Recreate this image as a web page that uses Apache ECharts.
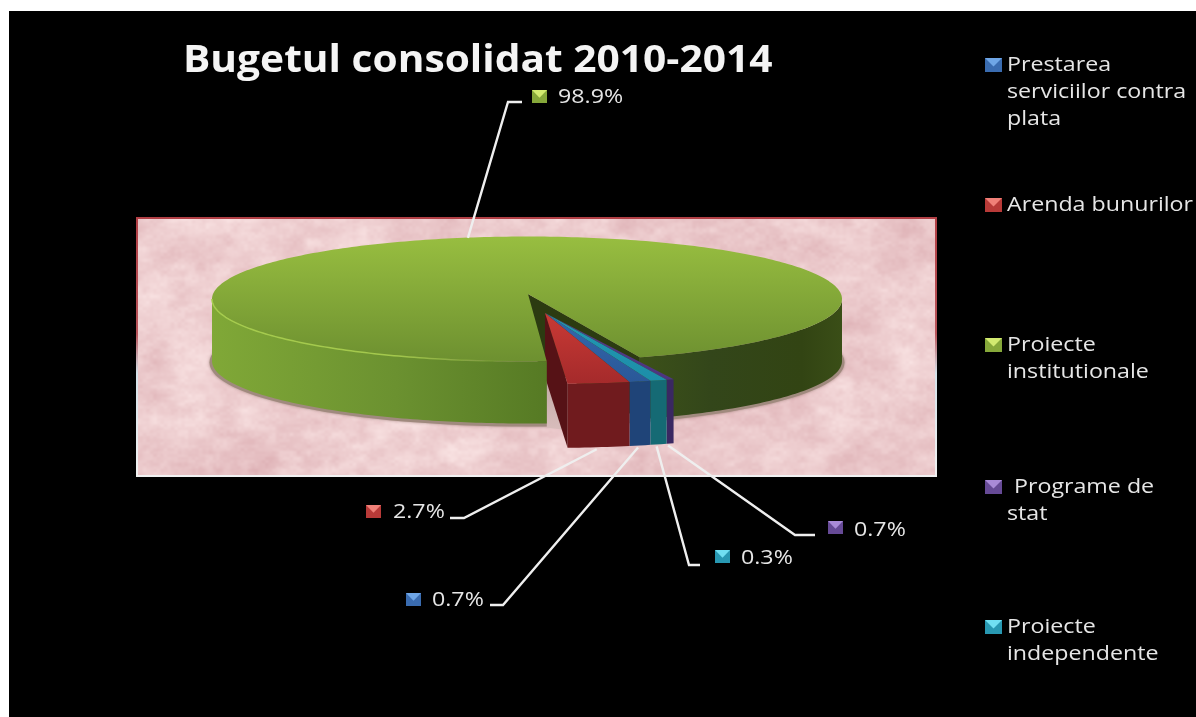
<!DOCTYPE html>
<html>
<head>
<meta charset="utf-8">
<style>html,body{margin:0;padding:0;background:#fff}#c{width:1196px;height:717px}</style>
<script src="https://cdn.jsdelivr.net/npm/echarts@6/dist/echarts.min.js"></script>
</head>
<body>
<div id="c"></div>
<script>
// ---- data ----
const categories = ['Prestarea serviciilor contra plata','Arenda bunurilor','Proiecte institutionale','Programe de stat','Proiecte independente'];
// slice shares as they are drawn in the picture (% of the circle)
const drawnShares = [0.97, 2.78, 95.2, 0.33, 0.75];
// percentages printed on the data labels
const percentLabels = ['0.7%','2.7%','98.9%','0.7%','0.3%'];
const legendLines = [['Prestarea','serviciilor contra','plata'],['Arenda bunurilor'],['Proiecte','institutionale'],[' Programe de','stat'],['Proiecte','independente']];
const chartTitle = 'Bugetul consolidat 2010-2014';

// ---- layout and styles ----
const startParam = 72.9;           // ellipse parameter where the first slice starts
const mainIndex = 2;
const pie = {cx:527, cy:299, rx:315, ry:62.5, depth:62, tipX:528, tipY:294};
const exploded = {cx:545, cy:313, rx:359, ry:71, depth:64};
const plot = {x:137, y:218, w:799, h:258};
const looks = [
  {top:['#3468ad','#2a5898'], side:'#1f4478', mark:['#6fa6e6','#3a6cb0']},
  {top:['#c93a35','#a52a2b'], side:'#701b1e', wall:'#561216', mark:['#f08078','#b83a38']},
  {top:['#98be40','#6d9030'], mark:['#d2ea70','#86a83a']},
  {top:['#553c8a','#4c3580'], side:'#3a2862', mark:['#a98ad8','#664a96']},
  {top:['#2398b4','#1c8ea8'], side:'#156a74', mark:['#70dff2','#2898b2']}
];
const labelLayout = [
  {elbow:[503,605], end:[490,605], mx:406, my:593, tx:432, ty:600, dx:-2},
  {elbow:[464,518], end:[450,518], mx:366, my:505, tx:393, ty:512, dx:-2},
  {elbow:[508,102], end:[522,102], mx:532, my:90,  tx:558, ty:97, dx:8},
  {elbow:[795,535], end:[815,535], mx:828, my:521, tx:854, ty:530, dx:-2},
  {elbow:[689,565], end:[700,565], mx:715, my:550, tx:741, ty:558, dx:-2}
];
const legendLayout = [{y:65},{y:205},{y:345},{y:487},{y:627}];
const legendLineGap = 27;
const textScale = 1.16;

const total = drawnShares.reduce((a,b)=>a+b,0);
const starts = [];
(function(){ let t = startParam; drawnShares.forEach(v=>{ starts.push(t); t += v/total*360; }); })();

const rad = d => d*Math.PI/180;
const onRim = (g,t) => [g.cx + g.rx*Math.cos(rad(t)), g.cy + g.ry*Math.sin(rad(t))];
function rimPts(g,a,b,dy){
  const pts=[]; const n=Math.max(2,Math.ceil(b-a));
  for(let i=0;i<=n;i++){ const p=onRim(g,a+(b-a)*i/n); pts.push([p[0],p[1]+(dy||0)]); }
  return pts;
}
function frontRanges(a,b){
  const out=[];
  for(let k=0;k<2;k++){ const lo=Math.max(a,360*k), hi=Math.min(b,180+360*k); if(lo<hi) out.push([lo,hi]); }
  return out;
}
const V = (c0,c1)=>({type:'linear',x:0,y:0,x2:0,y2:1,colorStops:[{offset:0,color:c0},{offset:1,color:c1}]});
const H = (stops)=>({type:'linear',x:0,y:0,x2:1,y2:0,colorStops:stops.map(s=>({offset:s[0],color:s[1]}))});

// fixed mottled paper texture for the plot area (decoration only, no data)
function hash(x,y,s){ let h=(x*374761393+y*668265263+s*1274126177)|0; h=Math.imul(h^(h>>>13),1274126177); return ((h^(h>>>16))>>>0)/4294967295; }
function vnoise(x,y,s){
  const xi=Math.floor(x), yi=Math.floor(y); let fx=x-xi, fy=y-yi;
  fx=fx*fx*(3-2*fx); fy=fy*fy*(3-2*fy);
  const a=hash(xi,yi,s), b=hash(xi+1,yi,s), c=hash(xi,yi+1,s), d=hash(xi+1,yi+1,s);
  return (a*(1-fx)+b*fx)*(1-fy)+(c*(1-fx)+d*fx)*fy;
}
function makeTexture(){
  const cv=document.createElement('canvas'); cv.width=plot.w; cv.height=plot.h;
  const ctx=cv.getContext('2d'); const im=ctx.createImageData(plot.w,plot.h);
  for(let y=0;y<plot.h;y++)for(let x=0;x<plot.w;x++){
    const n = 1.0*(vnoise(x/55,y/34,1)-.5) + 0.8*(vnoise(x/22,y/12,2)-.5) + 0.6*(vnoise(x/9,y/6,3)-.5) + 0.35*(vnoise(x/3.5,y/3,4)-.5);
    const i=(y*plot.w+x)*4;
    im.data[i]=236+n*12; im.data[i+1]=203+n*22; im.data[i+2]=205+n*20; im.data[i+3]=255;
  }
  ctx.putImageData(im,0,0); return cv;
}

function marker(x,y,w,h,c,z){
  return [
    {type:'rect',z2:z,shape:{x:x,y:y,width:w,height:h},style:{fill:c[1]}},
    {type:'polygon',z2:z+1,shape:{points:[[x,y],[x+w,y],[x+w/2,y+h*0.6]]},style:{fill:c[0]}}
  ];
}

function renderItem(params, api){
  const i=params.dataIndex, sweep=api.value(0)/total*360, a=starts[i], b=a+sweep, look=looks[i];
  const kids=[];
  if(i===mainIndex){
    const fr=frontRanges(a,b);
    const rightPt=onRim(pie,b);
    // cut wall facing the viewer
    kids.push({type:'polygon',z2:2,shape:{points:[[pie.tipX,pie.tipY],rightPt,[rightPt[0],rightPt[1]+pie.depth],[pie.tipX,pie.tipY+pie.depth]]},style:{fill:'#2c3b11'}});
    // soft ground shadow, paler where it shows inside the gap
    kids.push({type:'ellipse',z2:1,shape:{cx:pie.cx,cy:pie.cy+pie.depth+1.5,rx:pie.rx+2.5,ry:pie.ry+1.5},style:{fill:'#a08a7e',shadowBlur:3,shadowColor:'rgba(120,90,80,.6)'}});
    const g0=onRim(pie,a);
    kids.push({type:'polygon',z2:1.5,shape:{points:[[g0[0],g0[1]+10],[g0[0]+30,g0[1]+10],[g0[0]+30,g0[1]+pie.depth+8],[g0[0],g0[1]+pie.depth+4]]},style:{fill:V('#bfa9a4','#d9bdbc')}});
    fr.forEach((r,k)=>{
      const top=rimPts(pie,r[0],r[1],0), bot=rimPts(pie,r[0],r[1],pie.depth).reverse();
      const isLeft=k===0;
      kids.push({type:'polygon',z2:isLeft?6:3,shape:{points:top.concat(bot)},
        style:{fill:isLeft?H([[0,'#80a837'],[.55,'#6b9130'],[1,'#567a24']]):H([[0,'#3c5119'],[.35,'#33461a'],[.8,'#324413'],[1,'#3a4e17']])}});
    });
    const topPts=[[pie.tipX,pie.tipY]].concat(rimPts(pie,a,b,0));
    kids.push({type:'polygon',z2:7,shape:{points:topPts},style:{fill:V(look.top[0],look.top[1])}});
    kids.push({type:'polyline',z2:8,shape:{points:rimPts(pie,92,180,0)},style:{fill:'none',lineWidth:1.5,
      stroke:H([[0,'#a6cc4e'],[.6,'#a3c84c'],[1,'rgba(160,196,76,0)'] ])}});
  } else {
    const g=exploded;
    kids.push({type:'polygon',z2:4,shape:{points:rimPts(g,a,b,0).concat(rimPts(g,a,b,g.depth).reverse())},style:{fill:look.side}});
    if(look.wall){
      const L=onRim(g,b);
      kids.push({type:'polygon',z2:4,shape:{points:[[g.cx,g.cy],L,[L[0],L[1]+g.depth],[g.cx,g.cy+g.depth]]},style:{fill:look.wall}});
    }
    kids.push({type:'polygon',z2:5,shape:{points:[[g.cx,g.cy]].concat(rimPts(g,a,b,0))},style:{fill:V(look.top[0],look.top[1])}});
  }
  // leader line, from the rim at the slice's middle
  const ll=labelLayout[i], mid=a+sweep/2;
  const g=i===mainIndex?pie:exploded;
  const rp=onRim(g,mid);
  const from=i===mainIndex?[rp[0]+ll.dx,rp[1]]:[rp[0]+ll.dx,rp[1]+g.depth+2];
  kids.push({type:'polyline',z2:9,shape:{points:[from,ll.elbow,ll.end]},style:{fill:'none',stroke:'#efefef',lineWidth:2.4}});
  marker(ll.mx,ll.my,15,13,look.mark,10).forEach(e=>kids.push(e));
  kids.push({type:'text',z2:12,x:ll.tx,y:ll.ty,scaleX:textScale,style:{text:percentLabels[i],fill:'#e6e6e6',font:'400 20px "Open Sans"',verticalAlign:'middle',align:'left'}});
  // legend entry
  const ly=legendLayout[i].y;
  marker(985,ly-7,17,14,look.mark,10).forEach(e=>kids.push(e));
  legendLines[i].forEach((line,k)=>{
    const lead=line.startsWith(' ')?7:0;
    kids.push({type:'text',z2:12,x:1007+lead,y:ly+k*legendLineGap,scaleX:textScale,style:{text:line.trim(),fill:'#e6e6e6',font:'400 20px "Open Sans"',verticalAlign:'middle',align:'left'}});
  });
  return {type:'group',children:kids};
}

const chart=echarts.init(document.getElementById('c'),null,{renderer:'canvas'});
chart.setOption({
  animation:false,
  backgroundColor:'#ffffff',
  graphic:[
    {type:'rect',z:-5,silent:true,shape:{x:9,y:11,width:1187,height:706},style:{fill:'#000'}},
    {type:'image',z:-4,silent:true,x:plot.x,y:plot.y,style:{image:makeTexture(),x:0,y:0,width:plot.w,height:plot.h}},
    {type:'rect',z:-3,silent:true,shape:{x:plot.x,y:plot.y,width:plot.w,height:plot.h},
      style:{fill:'none',lineWidth:2,stroke:{type:'linear',x:0,y:0,x2:0,y2:1,colorStops:[{offset:0,color:'#b23f45'},{offset:.45,color:'#b8545a'},{offset:.6,color:'#d5e2ea'},{offset:1,color:'#f2f2f2'}]}}},
    {type:'text',z:3,silent:true,x:183,y:61,scaleX:1.10,style:{text:chartTitle,fill:'#f4f4f4',font:'700 37px "Open Sans"',verticalAlign:'middle',align:'left'}}
  ],
  series:[{
    type:'custom',coordinateSystem:'none',silent:true,z:2,
    data:categories.map((c,i)=>({name:c,value:[drawnShares[i]]})),
    renderItem:renderItem
  }]
});
</script>
</body>
</html>
